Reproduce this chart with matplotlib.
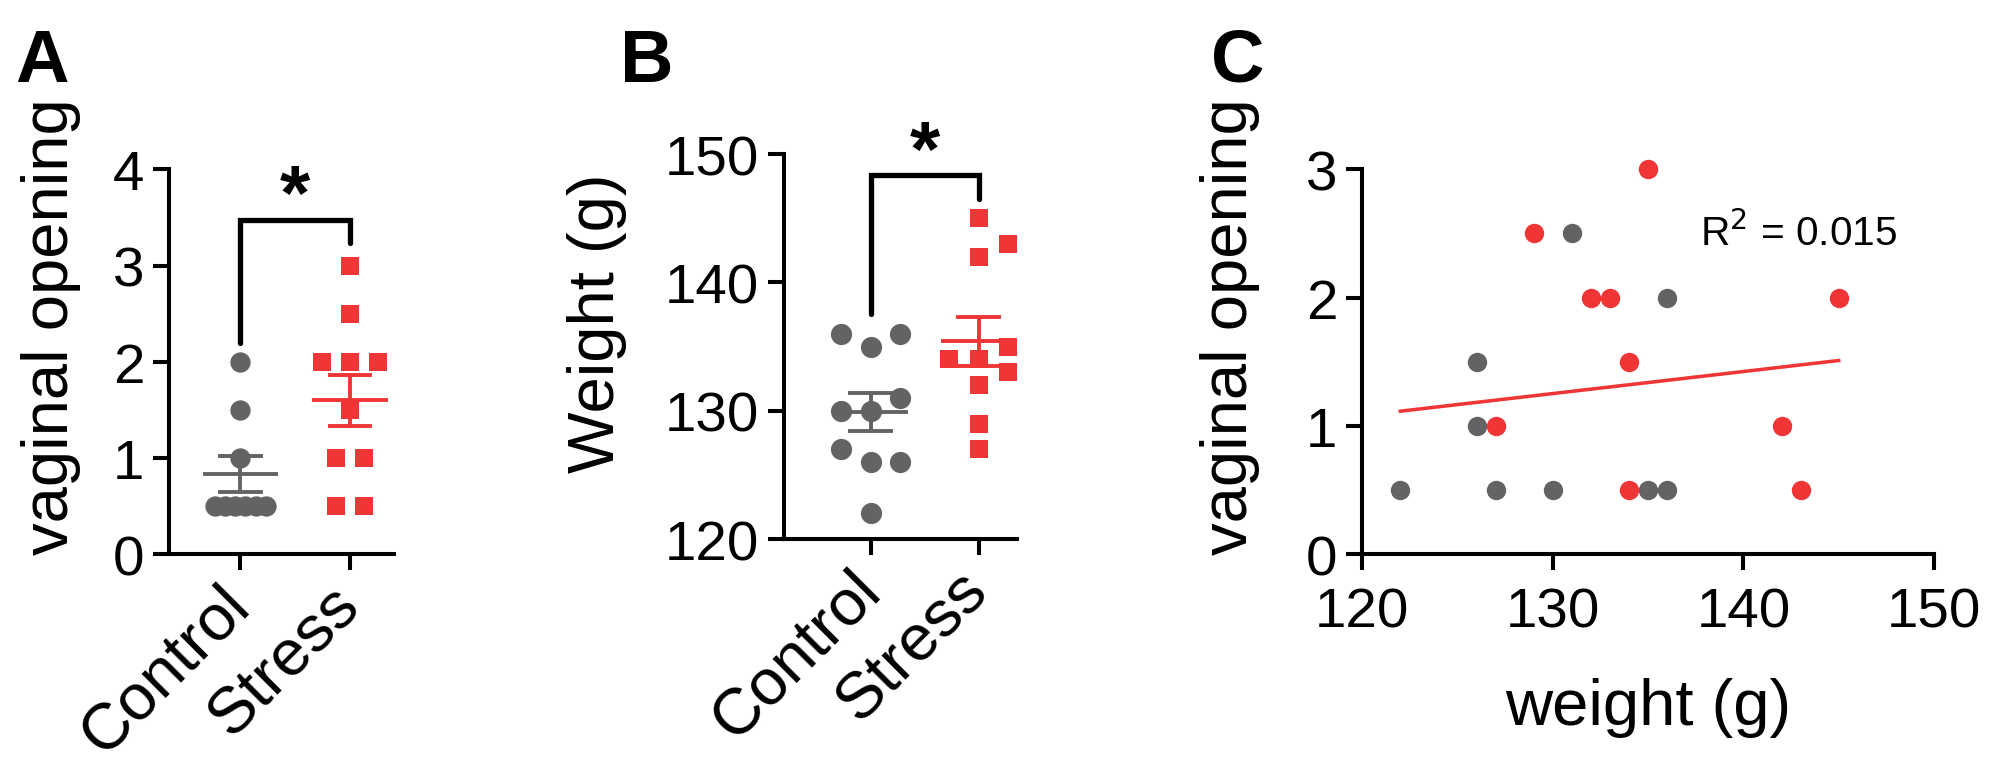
import numpy as np
import matplotlib
matplotlib.use("Agg")
import matplotlib.pyplot as plt

plt.rcParams['font.family'] = ['Liberation Sans', 'DejaVu Sans']

# ---------------- data ----------------
groups = ["Control", "Stress"]

# Panel A: vaginal opening
a_control = [2, 1.5, 1, 0.5, 0.5, 0.5, 0.5, 0.5, 0.5]
a_stress = [3, 2.5, 2, 2, 2, 1.5, 1, 1, 0.5, 0.5]
a_yticks = [0, 1, 2, 3, 4]

# Panel B: weight (g)
b_control = [136, 136, 135, 131, 130, 130, 127, 126, 126, 122]
b_stress = [145, 143, 142, 135, 134, 134, 133, 132, 129, 127]
b_yticks = [120, 130, 140, 150]

# Panel C: weight vs vaginal opening
c_ctrl_weight = [131, 136, 126, 126, 122, 127, 130, 135, 136]
c_ctrl_vo = [2.5, 2, 1.5, 1, 0.5, 0.5, 0.5, 0.5, 0.5]
c_str_weight = [135, 129, 132, 133, 145, 134, 127, 142, 134, 143]
c_str_vo = [3, 2.5, 2, 2, 2, 1.5, 1, 1, 0.5, 0.5]
c_fit_x = [122, 145]
c_fit_y = [1.115, 1.51]
c_r2_text = "R$^2$ = 0.015"
c_xticks = [120, 130, 140, 150]
c_yticks = [0, 1, 2, 3]

# ---------------- layout / style ----------------
# horizontal jitter (layout pixels) for the scatter columns
a_ctrl_off = [0, 0, 0, -20, -12, -4, 4, 12, 20]
a_str_off = [0, 0, -22, 0, 22, 0, -11, 11, -11, 11]
b_ctrl_off = [-23, 23, 0, 23, -23, 0, -23, 0, 23, 0]
b_str_off = [0, 23, 0, 23, -23, 0, 23, 0, 0, 0]

GRAY = '#636363'
RED = '#EF3535'
# layout units: figure is 1570 x 600.45 units, rendered at 1995 x 763 px
W, H = 1570.0, 763 / (1995 / 1570.0)
DPI = 1995 / 15.70
fig = plt.figure(figsize=(W / 100, H / 100), dpi=DPI)

def frac(l, r, t, b):
    return [l / W, 1 - b / H, (r - l) / W, (b - t) / H]

TICK_FS = 32
LAB_FS = 37
CAT_FS = 37

def style(ax):
    for s in ['top', 'right']:
        ax.spines[s].set_visible(False)
    for s in ['left', 'bottom']:
        ax.spines[s].set_linewidth(2.3)
    ax.tick_params(axis='both', length=9, width=2.3, labelsize=TICK_FS, pad=5)

def px2data(ax, px):
    x0, x1 = ax.get_xlim()
    return px * (x1 - x0) / (ax.get_position().width * W)

def dotplot(ax, xpos, vals, offs, color, marker, ms):
    d = np.array([px2data(ax, o) for o in offs])
    ax.plot(xpos + d, vals, linestyle='none', marker=marker, ms=ms,
            color=color, mec='none', zorder=3, clip_on=False)
    v = np.array(vals, float)
    m = v.mean()
    se = v.std(ddof=1) / np.sqrt(len(v))
    hw = px2data(ax, 28)
    cw = px2data(ax, 16)
    lw = 2.2
    ax.plot([xpos - hw, xpos + hw], [m, m], color=color, lw=lw, zorder=4, clip_on=False)
    ax.plot([xpos, xpos], [m - se, m + se], color=color, lw=lw, zorder=4, clip_on=False)
    for yy in (m - se, m + se):
        ax.plot([xpos - cw, xpos + cw], [yy, yy], color=color, lw=lw, zorder=4, clip_on=False)

def bracket(ax, x0, x1, yl, yr, ytop, ystar, fs):
    ax.plot([x0, x0, x1, x1], [yl, ytop, ytop, yr], color='black', lw=3,
            solid_capstyle='round', solid_joinstyle='miter', clip_on=False, zorder=5)
    ax.text((x0 + x1) / 2, ystar, '*', ha='center', va='center', fontsize=fs,
            fontweight='bold', clip_on=False)

def cat_axis(ax):
    ax.set_xticks([0, 1])
    ax.set_xticklabels(groups, rotation=45, ha='right', va='center',
                       rotation_mode='anchor', fontsize=CAT_FS)
    ax.tick_params(axis='x', pad=14)

# ---------------- Panel A ----------------
axA = fig.add_axes(frac(133, 310, 134, 437))
axA.set_xlim(-0.65, 1.4)
axA.set_ylim(0, 4)
style(axA)
axA.set_yticks(a_yticks)
cat_axis(axA)
dotplot(axA, 0, a_control, a_ctrl_off, GRAY, 'o', 11.5)
dotplot(axA, 1, a_stress, a_str_off, RED, 's', 10.5)
bracket(axA, 0, 1, 2.2, 3.23, 3.47, 3.70, 44)
fig.text(40 / W, 1 - 257 / H, 'vaginal opening', rotation=90, ha='center',
         va='center', fontsize=LAB_FS)
fig.text(12 / W, 1 - 22 / H, 'A', ha='left', va='top', fontsize=42, fontweight='bold')

# ---------------- Panel B ----------------
axB = fig.add_axes(frac(617, 800, 122, 425))
axB.set_xlim(-0.8, 1.35)
axB.set_ylim(120, 150)
style(axB)
axB.set_yticks(b_yticks)
cat_axis(axB)
dotplot(axB, 0, b_control, b_ctrl_off, GRAY, 'o', 12)
dotplot(axB, 1, b_stress, b_str_off, RED, 's', 10.5)
bracket(axB, 0, 1, 137.5, 146.5, 148.4, 150.0, 44)
fig.text(470 / W, 1 - 254 / H, 'Weight (g)', rotation=90, ha='center',
         va='center', fontsize=LAB_FS)
fig.text(488 / W, 1 - 22 / H, 'B', ha='left', va='top', fontsize=42, fontweight='bold')

# ---------------- Panel C ----------------
axC = fig.add_axes(frac(1072, 1522, 134, 437))
axC.set_xlim(120, 150)
axC.set_ylim(0, 3)
style(axC)
axC.tick_params(axis='x', pad=9)
axC.set_xticks(c_xticks)
axC.set_yticks(c_yticks)
axC.plot(c_ctrl_weight, c_ctrl_vo, 'o', color=GRAY, ms=11, mec='none', zorder=3, clip_on=False)
axC.plot(c_str_weight, c_str_vo, 'o', color=RED, ms=11, mec='none', zorder=3, clip_on=False)
axC.plot(c_fit_x, c_fit_y, color=RED, lw=2, zorder=2)
axC.text(137.7, 2.41, c_r2_text, ha='left', va='baseline', fontsize=23)
axC.set_xlabel('weight (g)', fontsize=LAB_FS, labelpad=22)
fig.text(968 / W, 1 - 257 / H, 'vaginal opening', rotation=90, ha='center',
         va='center', fontsize=LAB_FS)
fig.text(953 / W, 1 - 22 / H, 'C', ha='left', va='top', fontsize=42, fontweight='bold')

fig.savefig('out.png', dpi=DPI, facecolor='white')
